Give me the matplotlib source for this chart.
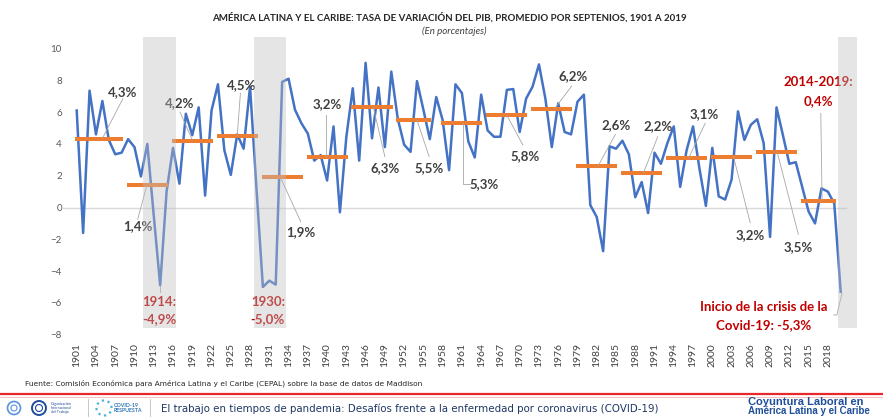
import matplotlib
matplotlib.use('Agg')
import matplotlib.pyplot as plt
from matplotlib.lines import Line2D
from matplotlib.patches import Ellipse
import numpy as np

plt.rcParams['font.family'] = ['Lato', 'DejaVu Sans']

# annual GDP growth, Latin America and the Caribbean, 1901-2020 (%)
years = np.arange(1901, 2021)
growth = [
    6.1, -1.6, 7.35, 4.6, 6.7, 4.25, 3.35, 3.45, 4.3, 3.8,        # 1901-1910
    1.95, 4.0, -0.5, -4.9, 1.0, 3.75, 1.5, 5.9, 4.55, 6.3,        # 1911-1920
    0.75, 6.1, 7.75, 3.6, 2.05, 4.6, 3.7, 7.6, 1.2, -5.0,         # 1921-1930
    -4.6, -4.85, 7.9, 8.1, 6.15, 5.3, 4.65, 2.95, 3.3, 1.7,       # 1931-1940
    5.1, -0.3, 4.45, 7.5, 2.95, 9.1, 4.35, 7.55, 3.8, 8.55,       # 1941-1950
    5.6, 3.95, 3.5, 7.95, 6.15, 4.3, 6.95, 5.5, 2.35, 7.75,       # 1951-1960
    7.2, 4.15, 3.15, 7.1, 4.85, 4.45, 4.45, 7.4, 7.45, 4.75,      # 1961-1970
    6.85, 7.6, 9.0, 6.85, 3.8, 6.55, 4.75, 4.6, 6.65, 7.1,        # 1971-1980
    0.15, -0.6, -2.75, 3.85, 3.7, 4.2, 3.35, 0.65, 1.6, -0.35,    # 1981-1990
    3.45, 2.75, 4.05, 5.1, 1.3, 3.6, 5.1, 2.45, 0.1, 3.75,        # 1991-2000
    0.7, 0.5, 1.75, 6.05, 4.25, 5.2, 5.55, 4.05, -1.85, 6.3,      # 2001-2010
    4.55, 2.75, 2.85, 1.3, -0.25, -1.0, 1.2, 1.0, 0.25, -5.3,     # 2011-2020
]

# period averages
period_start = [1901, 1909, 1916, 1923, 1930, 1937, 1944, 1951, 1958,
                1965, 1972, 1979, 1986, 1993, 2000, 2007, 2014]
period_end = [1908, 1915, 1922, 1929, 1936, 1943, 1950, 1956, 1964,
              1971, 1978, 1985, 1992, 1999, 2006, 2013, 2019]
period_avg = [4.3, 1.4, 4.2, 4.5, 1.9, 3.2, 6.3, 5.5, 5.3,
              5.8, 6.2, 2.6, 2.2, 3.1, 3.2, 3.5, 0.4]

# crisis shading (year spans)
crisis_spans = [(1911.35, 1916.5), (1928.6, 1933.55), (2019.6, 2022.6)]

BLUE = '#4472C4'
ORANGE = '#ED7D31'
LABEL = '#404040'
RED = '#C00000'
LEAD = '#A6A6A6'

fig = plt.figure(figsize=(8.83, 4.17), dpi=100)
ax = fig.add_axes([0.0716, 0.1974, 0.8994, 0.7148])
ax.set_xlim(1898.9, 2022.6)
ax.set_ylim(-8, 10.75)

ax.plot([1898.9, 2020.8], [0, 0], color='#D9D9D9', lw=1.0, zorder=1)
ax.plot(years, growth, color=BLUE, lw=1.8, zorder=3, solid_joinstyle='round')
ax.hlines(period_avg, np.array(period_start) - 0.2, np.array(period_end) + 0.2,
          color=ORANGE, lw=2.9, zorder=4, capstyle='butt')

for x0, x1 in crisis_spans:
    ax.fill_between([x0, x1], -7.55, 10.73, color='#BFBFBF', alpha=0.4,
                    lw=0, zorder=10)

# data labels with leader lines: text, position, leader points
labels = [
    ('4,3%', (1908.2, 7.28), [(1908.2, 6.85), (1905.0, 4.35)]),
    ('1,4%', (1910.5, -1.16), [(1910.5, -0.74), (1911.9, 1.35)]),
    ('4,2%', (1917.1, 6.6), [(1917.1, 6.0), (1919.0, 4.25)]),
    ('4,5%', (1926.7, 7.7), [(1926.5, 7.18), (1926.0, 4.5)]),
    ('1,9%', (1935.9, -1.56), [(1935.9, -0.9), (1932.8, 1.84)]),
    ('3,2%', (1940.0, 6.5), [(1939.9, 5.8), (1939.9, 3.2)]),
    ('6,3%', (1949.0, 2.5), [(1949.0, 3.2), (1947.2, 6.3)]),
    ('5,5%', (1955.9, 2.5), [(1955.9, 3.2), (1954.0, 5.5)]),
    ('5,3%', (1964.4, 1.48), [(1962.3, 1.48), (1961.1, 1.48), (1961.1, 5.3)]),
    ('5,8%', (1970.8, 3.24), [(1970.5, 3.93), (1968.0, 5.8)]),
    ('6,2%', (1978.3, 8.29), [(1978.1, 7.64), (1975.4, 6.2)]),
    ('2,6%', (1985.0, 5.19), [(1984.9, 4.6), (1982.2, 2.6)]),
    ('2,2%', (1991.5, 5.13), [(1991.5, 4.45), (1989.3, 2.2)]),
    ('3,1%', (1998.8, 5.86), [(1998.9, 5.3), (1996.3, 3.1)]),
    ('3,2%', (2005.9, -1.73), [(2005.9, -0.95), (2003.3, 3.2)]),
    ('3,5%', (2013.4, -2.46), [(2013.4, -1.69), (2010.1, 3.5)]),
]
for txt, (tx, ty), pts in labels:
    ax.text(tx, ty, txt, ha='center', va='center', fontsize=9.5,
            fontweight='bold', color=LABEL, zorder=6)
    px, py = zip(*pts)
    ax.plot(px, py, color=LEAD, lw=0.6, zorder=5)

# red crisis annotations
red_notes = [
    ('2014-2019:', (2016.5, 7.87)), ('0,4%', (2016.5, 6.7)),
    ('Inicio de la crisis de la', (2008.05, -6.24)),
    ('Covid-19: -5,3%', (2008.05, -7.39)),
    ('1914:', (1913.9, -5.92)), ('-4,9%', (1913.9, -7.03)),
    ('1930:', (1930.75, -5.92)), ('-5,0%', (1930.75, -7.03)),
]
for txt, (tx, ty) in red_notes:
    ax.text(tx, ty, txt, ha='center', va='center', fontsize=9.5,
            fontweight='bold', color=RED, zorder=6)
red_leaders = [
    [(2016.9, 5.92), (2017.1, 0.45)],
    [(2018.9, -6.76), (2019.4, -6.76), (2020.2, -5.4)],
    [(1914.0, -5.0), (1914.0, -5.3)],
]
for pts in red_leaders:
    px, py = zip(*pts)
    ax.plot(px, py, color=LEAD, lw=0.6, zorder=5)

ax.set_xticks(np.arange(1901, 2019, 3))
ax.set_xticklabels([str(y) for y in range(1901, 2019, 3)], rotation=90,
                   fontsize=7.5, color='#404040')
ax.set_yticks(np.arange(-8, 11, 2))
ax.tick_params(axis='y', labelsize=7, colors='#595959', length=0, pad=1)
ax.tick_params(axis='x', length=0, pad=6)
for s in ax.spines.values():
    s.set_visible(False)

fig.text(0.509, 1 - 17 / 417, 'AMÉRICA LATINA Y EL CARIBE: TASA DE VARIACIÓN DEL PIB, '
         'PROMEDIO POR SEPTENIOS, 1901 A 2019', ha='center', va='center',
         fontsize=7, fontweight='bold', color='#262626')
fig.text(0.515, 1 - 31 / 417, '(En porcentajes)', ha='center', va='center',
         fontsize=7, style='italic', color='#404040')

fig.text(25 / 883, 1 - 383 / 417, 'Fuente: Comisión Económica para América Latina y el '
         'Caribe (CEPAL) sobre la base de datos de Maddison', ha='left',
         va='center', fontsize=5.4, color='#262626',
         family=['Liberation Sans Narrow', 'DejaVu Sans'])

# footer band
fig.add_artist(Line2D([0, 1], [1 - 394 / 417] * 2, color='#E8262B', lw=1.6))
fig.add_artist(Line2D([0, 1], [1 - 396.5 / 417] * 2, color='#F4B6B6', lw=0.6))


def logo_ring(cx, cy, d, **kw):
    fig.add_artist(Ellipse((cx / 883, 1 - cy / 417), d / 883, d / 417,
                           transform=fig.transFigure, facecolor='none', **kw))


logo_ring(14, 408, 13, edgecolor='#5B92E5', lw=1.2)
logo_ring(14, 408, 6, edgecolor='#5B92E5', lw=0.8)
logo_ring(39, 408, 14, edgecolor='#1F4E9A', lw=1.4)
logo_ring(39, 408, 7, edgecolor='#1F4E9A', lw=0.8)
fy = 1 - 408 / 417
fig.text(51 / 883, fy, 'Organización\nInternacional\ndel Trabajo', fontsize=2.6,
         color='#1F4E9A', va='center', linespacing=1.0)
fig.add_artist(Line2D([88 / 883] * 2, [fy - 0.022, fy + 0.022], color='#BFBFBF',
                      lw=0.6))
logo_ring(104, 408, 15, edgecolor='#4CB3D8', lw=1.6, ls=':')
fig.text(114 / 883, fy, 'COVID-19\nRESPUESTA', fontsize=3.8, fontweight='bold',
         color='#2E75B6', va='center', linespacing=1.0)
fig.add_artist(Line2D([150 / 883] * 2, [fy - 0.022, fy + 0.022], color='#BFBFBF',
                      lw=0.6))

fig.text(161 / 883, 1 - 409 / 417, 'El trabajo en tiempos de pandemia: Desafíos frente a la '
         'enfermedad por coronavirus (COVID-19)', ha='left', va='center',
         fontsize=7.4, color='#1F3864',
         family=['Liberation Sans Narrow', 'DejaVu Sans'])
fig.text(748 / 883, 1 - 402 / 417, 'Coyuntura Laboral en', ha='left',
         va='center', fontsize=8, fontweight='bold', color='#1F4E9A',
         family=['Liberation Sans', 'DejaVu Sans'])
fig.text(748 / 883, 1 - 411.5 / 417, 'América Latina y el Caribe', ha='left',
         va='center', fontsize=7, fontweight='bold', color='#1F4E9A',
         family=['Liberation Sans', 'DejaVu Sans'])

fig.savefig('out.png', dpi=100)
